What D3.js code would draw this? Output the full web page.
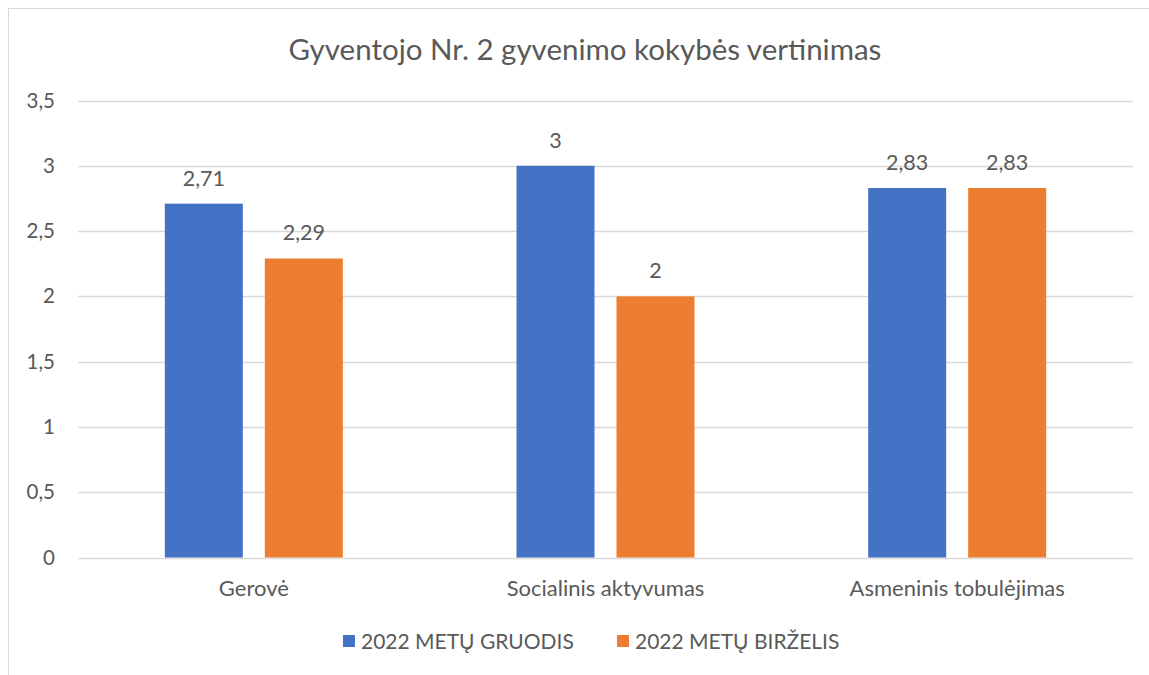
<!DOCTYPE html>
<html><head><meta charset="utf-8">
<script src="https://cdn.jsdelivr.net/npm/d3@7"></script>
<style>body{margin:0;background:#fff}svg{display:block}text{font-family:Lato,"Open Sans",sans-serif;fill:#595959}</style>
</head><body>
<svg id="c" width="1149" height="675"></svg>
<script>
const title = "Gyventojo Nr. 2 gyvenimo kokybės vertinimas";
const categories = ["Gerovė", "Socialinis aktyvumas", "Asmeninis tobulėjimas"];
const seriesNames = ["2022 METŲ GRUODIS", "2022 METŲ BIRŽELIS"];
const gruodis = [2.71, 3, 2.83];
const birzelis = [2.29, 2, 2.83];
const yTicks = [0, 0.5, 1, 1.5, 2, 2.5, 3, 3.5];
const colors = ["#4472C4", "#ED7D31"];

(function () {
const svg = d3.select("#c");
svg.append("rect").attr("x", 8.5).attr("y", 8.5).attr("width", 1160).attr("height", 690)
  .attr("fill", "#fff").attr("stroke", "#d9d9d9").attr("stroke-width", 1);

const pLeft = 78, pRight = 1133, pTop = 100.5, pBottom = 557.5;
const y = d3.scaleLinear().domain([0, 3.5]).range([pBottom, pTop]);
const x0 = d3.scaleBand().domain(categories).range([pLeft, pRight]);
const inner = 178;
const x1 = d3.scaleBand().domain(seriesNames).range([0, inner]).paddingInner(0.22);
const off = (x0.bandwidth() - inner) / 2;
const fmt = v => String(v).replace(".", ",");

svg.append("g").selectAll("line").data(yTicks).join("line")
  .attr("x1", pLeft).attr("x2", pRight)
  .attr("y1", d => Math.round(y(d)) + 0.5).attr("y2", d => Math.round(y(d)) + 0.5)
  .attr("stroke", "#d9d9d9").attr("stroke-width", 1.3);

const yAxis = d3.axisLeft(y).tickValues(yTicks).tickFormat(fmt).tickSize(0).tickPadding(0);
const ga = svg.append("g").attr("transform", `translate(55,0)`).call(yAxis);
ga.select(".domain").remove();
ga.selectAll("text").attr("font-size", 20.5).attr("fill", "#595959").style("font-family", "Lato");

const data = categories.map((c, i) => ({c, vals: [gruodis[i], birzelis[i]]}));
const g = svg.append("g");
data.forEach(d => {
  d.vals.forEach((v, j) => {
    const bx = x0(d.c) + off + x1(seriesNames[j]);
    g.append("rect").attr("x", bx).attr("y", y(v)).attr("width", x1.bandwidth())
      .attr("height", y(0) - y(v)).attr("fill", colors[j]);
    g.append("text").attr("x", bx + x1.bandwidth() / 2).attr("y", y(v) - 18)
      .attr("text-anchor", "middle").attr("font-size", 21.5).text(fmt(v));
  });
});

const xAxis = d3.axisBottom(x0).tickSize(0).tickPadding(0);
const gx = svg.append("g").attr("transform", `translate(0,${pBottom + 38.5})`).call(xAxis);
gx.select(".domain").remove();
gx.selectAll("text").attr("font-size", 22).attr("fill", "#595959").attr("dy", 0).style("font-family", "Lato");

svg.append("text").attr("x", 585).attr("y", 60).attr("text-anchor", "middle")
  .attr("font-size", 29.5).text(title);

const legX = [343, 617];
const legTX = [361, 635];
seriesNames.forEach((s, j) => {
  svg.append("rect").attr("x", legX[j]).attr("y", 635).attr("width", 12).attr("height", 12).attr("fill", colors[j]);
  svg.append("text").attr("x", legTX[j]).attr("y", 649).attr("font-size", 21).text(s);
});
})();
</script>
</body></html>
